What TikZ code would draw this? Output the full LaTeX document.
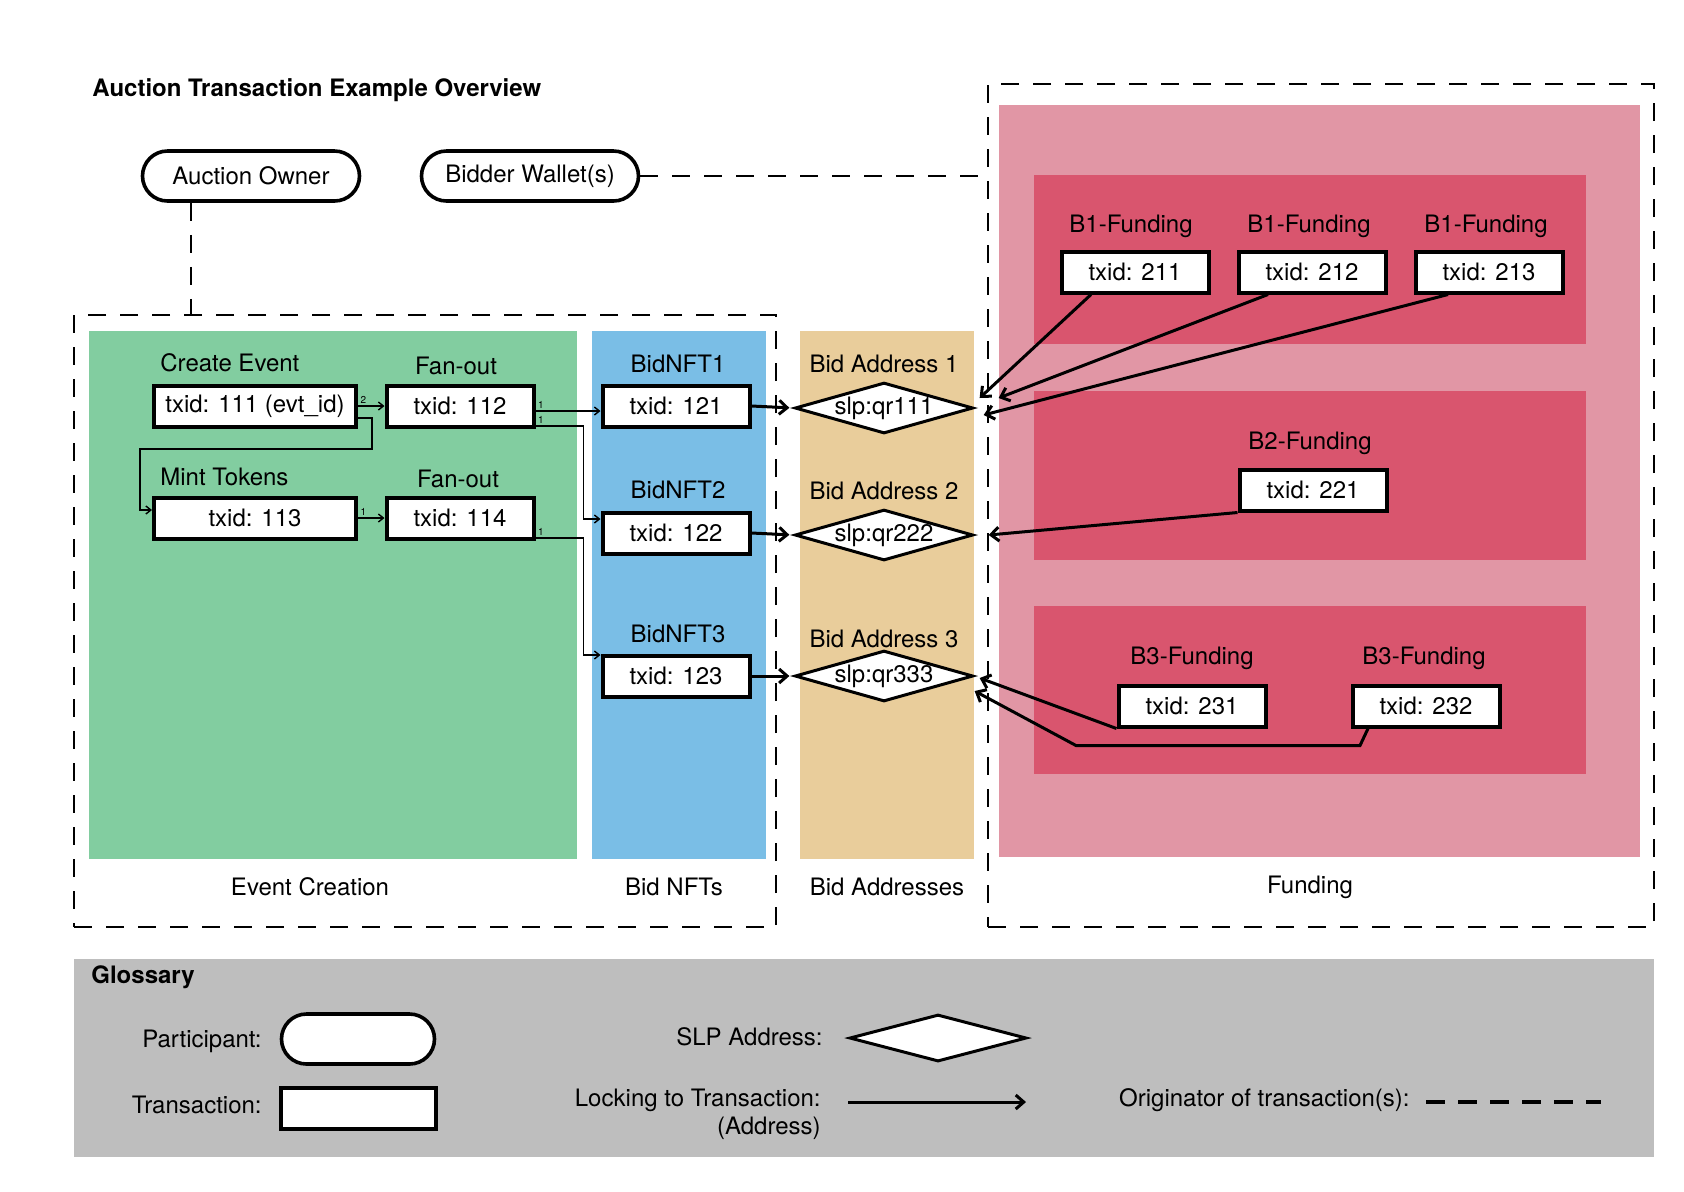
\documentclass[tikz,border=0pt]{standalone}
\usepackage{fontspec}
\setmainfont{TeX Gyre Heros}
\usetikzlibrary{shapes.geometric,arrows.meta}

\definecolor{creategreen}{RGB}{130,205,160}
\definecolor{nftblue}{RGB}{122,190,230}
\definecolor{addrtan}{RGB}{233,205,155}
\definecolor{fundpink}{RGB}{225,150,165}
\definecolor{fundred}{RGB}{217,85,110}
\definecolor{glossgray}{RGB}{190,190,190}

\tikzset{
  participant/.style={draw, line width=1.8pt, fill=white, rounded corners=12.5pt,
    minimum width=108.5pt, minimum height=25pt, inner sep=0pt},
  txbox/.style={draw, line width=2pt, fill=white, minimum width=73.5pt,
    minimum height=20.5pt, inner sep=0pt},
  slpaddr/.style={draw, diamond, aspect=3.5, line width=1.5pt, fill=white,
    minimum width=87.5pt, minimum height=25pt, inner sep=0pt},
  frame/.style={draw, line width=1pt, dash pattern=on 9pt off 7pt, inner sep=0pt},
  origin/.style={line width=1pt, dash pattern=on 9pt off 7pt},
  fanline/.style={line width=0.7pt, -{Straight Barb[length=2.5pt,width=4pt]}},
  lockarrow/.style={line width=1.5pt, -{Straight Barb[length=4pt,width=7pt]}},
  outnum/.style={font=\fontsize{5}{6}\selectfont, inner sep=1pt},
  tight/.style={inner sep=0pt},
  heading/.style={inner sep=0pt, anchor=west, font=\fontsize{12}{14}\selectfont\bfseries},
}

\begin{document}
\begin{tikzpicture}[x=0.5pt, y=-0.5pt, font=\fontsize{12}{14}\selectfont]
  \useasboundingbox (0,0) rectangle (1684,1191);

  % coloured areas
  \fill[creategreen] (89,331) rectangle (577,859);
  \fill[nftblue] (592,331) rectangle (766,859);
  \fill[addrtan] (800,331) rectangle (974,859);
  \fill[fundpink] (999,105) rectangle (1640,857);
  \fill[fundred] (1034,175) rectangle (1586,344);
  \fill[fundred] (1034,391) rectangle (1586,560);
  \fill[fundred] (1034,606) rectangle (1586,774);
  \fill[glossgray] (74,959) rectangle (1654,1157);

  \node[heading] (title) at (92,90) {Auction Transaction Example Overview};

  % participants
  \node[participant] (owner) at (251,176) {Auction Owner};
  \node[participant] (bidder) at (530,176) {Bidder Wallet(s)};

  \node[frame, minimum width=351pt, minimum height=306pt] (eventframe) at (425,621) {};
  \node[frame, minimum width=333pt, minimum height=421.5pt] (fundframe) at (1321,505.5) {};

  \draw[origin, line width=0.6pt] ([xshift=-30pt]owner.south) -- ([xshift=-30pt]owner.south |- eventframe.north);
  \draw[origin] (bidder.east) -- (bidder.east -| fundframe.west);

  \node (lblevent) at (310,887) {Event Creation};
  \node (lblnfts) at (674,887) {Bid NFTs};
  \node (lbladdr) at (887,887) {Bid Addresses};
  \node (lblfund) at (1310,887) {Funding};

  % event creation
  \node[tight, anchor=west] (capcreate) at (160,363) {Create Event};
  \node[tight, anchor=west] (capmint) at (160,477) {Mint Tokens};
  \node (capfan1) at (456,366) {Fan-out};
  \node (capfan2) at (458,479) {Fan-out};
  \node[txbox, minimum width=101pt] (t111) at (255,406) {txid: 111 (evt\_id)};
  \node[txbox] (t112) at (460,406) {txid: 112};
  \node[txbox, minimum width=101pt] (t113) at (255,518) {txid: 113};
  \node[txbox] (t114) at (460,518) {txid: 114};

  % bid nfts
  \node (capnft1) at (678,364) {BidNFT1};
  \node (capnft2) at (678,490) {BidNFT2};
  \node (capnft3) at (678,634) {BidNFT3};
  \node[txbox] (t121) at (676,406) {txid: 121};
  \node[txbox] (t122) at (676,533) {txid: 122};
  \node[txbox] (t123) at (676,676) {txid: 123};

  % bid addresses
  \node (capaddr1) at (884,364) {Bid Address 1};
  \node (capaddr2) at (884,491) {Bid Address 2};
  \node (capaddr3) at (884,639) {Bid Address 3};
  \node[slpaddr] (qr111) at (884,408) {slp:qr111};
  \node[slpaddr] (qr222) at (884,535) {slp:qr222};
  \node[slpaddr] (qr333) at (884,676) {slp:qr333};

  % funding
  \node (capb1a) at (1131,226) {B1-Funding};
  \node (capb1b) at (1309,226) {B1-Funding};
  \node (capb1c) at (1486,226) {B1-Funding};
  \node (capb2) at (1310,443) {B2-Funding};
  \node (capb3a) at (1192,658) {B3-Funding};
  \node (capb3b) at (1424,658) {B3-Funding};
  \node[txbox] (t211) at (1135,272) {txid: 211};
  \node[txbox] (t212) at (1312,272) {txid: 212};
  \node[txbox] (t213) at (1489,272) {txid: 213};
  \node[txbox] (t221) at (1313,490) {txid: 221};
  \node[txbox] (t231) at (1192,706) {txid: 231};
  \node[txbox] (t232) at (1426,706) {txid: 232};

  % outputs
  \draw[fanline] (t111.east) -- node[outnum, pos=0, above right] {2} (t112.west);
  \draw[fanline] ([yshift=-6pt]t111.east) -- ++(14,0) -- ++(0,31)
    -| ([xshift=-6pt,yshift=4pt]t113.west) -- ([yshift=4pt]t113.west);
  \draw[fanline] (t113.east) -- node[outnum, pos=0, above right] {1} (t114.west);
  \draw[fanline] ([yshift=-2.5pt]t112.east) -- node[outnum, pos=0, above right] {1} ([yshift=-2.5pt]t121.west);
  \draw[fanline] ([yshift=-10pt]t112.east) node[outnum, above right] {1}
    -| ([xshift=-8.5pt,yshift=7pt]t122.west) -- ([yshift=7pt]t122.west);
  \draw[fanline] ([yshift=-10pt]t114.east) node[outnum, above right] {1}
    -| ([xshift=-8.5pt,yshift=10.5pt]t123.west) -- ([yshift=10.5pt]t123.west);

  % locking
  \draw[lockarrow, shorten >=2pt] (t121.east) -- (qr111.west);
  \draw[lockarrow, shorten >=2pt] (t122.east) -- (qr222.west);
  \draw[lockarrow, shorten >=2pt] (t123.east) -- (qr333.west);
  \draw[lockarrow] ([xshift=-22pt]t211.south) -- ([xshift=2.5pt,yshift=5pt]qr111.east);
  \draw[lockarrow] ([xshift=-22pt]t212.south) -- ([xshift=12pt,yshift=5pt]qr111.east);
  \draw[lockarrow] ([xshift=-20.5pt]t213.south) -- ([xshift=4.5pt,yshift=-3.5pt]qr111.east);
  \draw[lockarrow] (t221.south west) -- ([xshift=7pt]qr222.east);
  \draw[lockarrow] (t231.south west) -- ([xshift=2.5pt,yshift=-1pt]qr333.east);
  \draw[lockarrow] ([xshift=-29pt]t232.south) -- ++(-8,17) -- ++(-284,0) -- ([yshift=-7.5pt]qr333.east);

  % glossary
  \node[heading] (glosstitle) at (91,977) {Glossary};
  \node[tight, anchor=east] (glosspart) at (262,1041) {Participant:};
  \node[participant, minimum width=76.5pt] (gpart) at (358,1039) {};
  \node[tight, anchor=east] (glosstx) at (262,1105) {Transaction:};
  \node[txbox, minimum width=77.5pt] (gtx) at (358,1108) {};
  \node[tight, anchor=east] (glossslp) at (823,1037) {SLP Address:};
  \node[slpaddr, minimum width=88.5pt, minimum height=23.5pt] (gslp) at (938,1038) {};
  \node[tight, anchor=east] (glosslock) at (821,1100) {Locking to Transaction:};
  \node[tight, anchor=east] (glossaddr) at (821,1128) {(Address)};
  \coordinate (lockfrom) at (848,1102);
  \coordinate (lockto) at (1026,1102);
  \draw[lockarrow] (lockfrom) -- (lockto);
  \node[tight, anchor=east] (glossorig) at (1410,1100) {Originator of transaction(s):};
  \coordinate (origfrom) at (1426,1102);
  \coordinate (origto) at (1601,1102);
  \draw[line width=2pt, dash pattern=on 9.3pt off 6.7pt] (origfrom) -- (origto);
\end{tikzpicture}
\end{document}
